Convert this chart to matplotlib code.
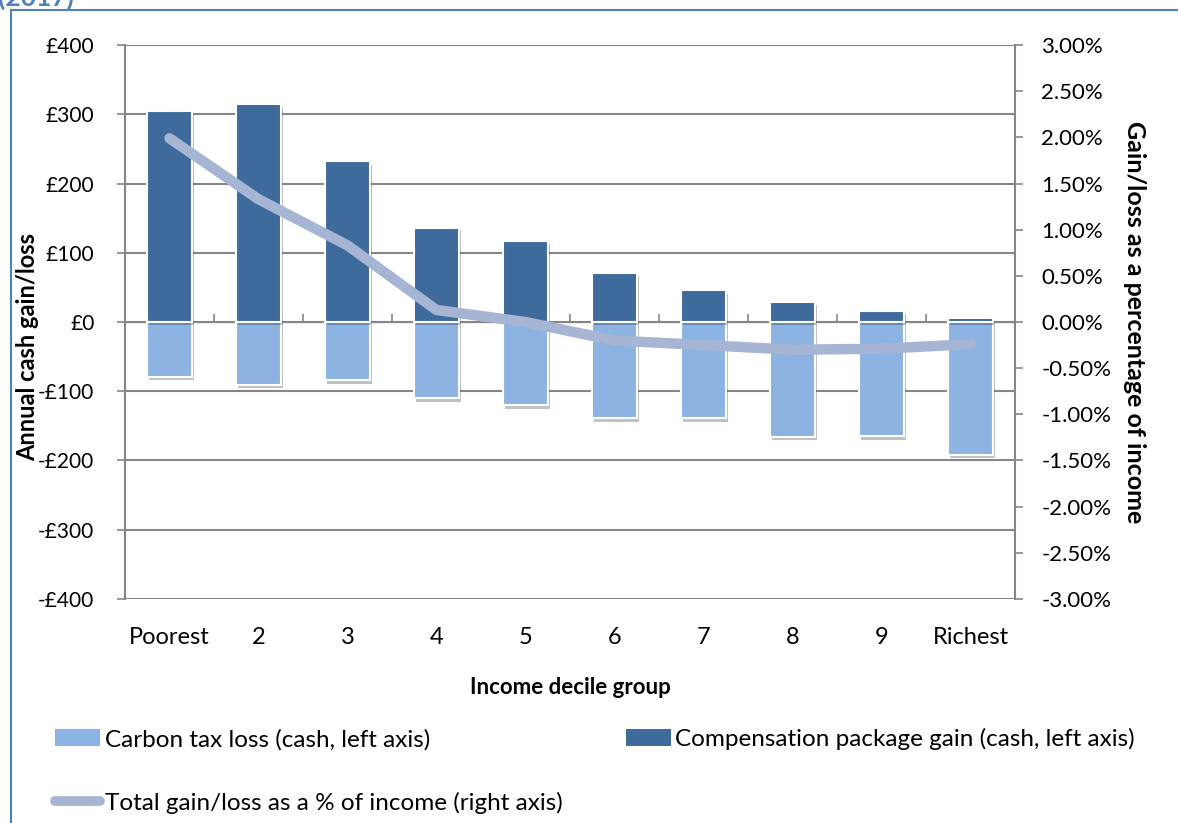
import numpy as np
import matplotlib.pyplot as plt
import matplotlib.patheffects as pe
from matplotlib.patches import Rectangle, Patch
from matplotlib.lines import Line2D
from matplotlib.ticker import FuncFormatter, MultipleLocator

plt.rcParams['font.family'] = ['Lato', 'DejaVu Sans']

# данные
deciles = ['Poorest', '2', '3', '4', '5', '6', '7', '8', '9', 'Richest']
tax_loss = [-79, -91, -84, -110, -120, -139, -139, -166, -165, -192]
comp_gain = [305, 315, 232, 136, 117, 71, 46, 29, 16, 6]
total_pct = [1.99, 1.33, 0.83, 0.13, 0.0, -0.20, -0.25, -0.30, -0.29, -0.24]

lbl_loss = 'Carbon tax loss (cash, left axis)'
lbl_gain = 'Compensation package gain (cash, left axis)'
lbl_total = 'Total gain/loss as a % of income (right axis)'

c_loss = '#8DB3E2'
c_gain = '#3F6A9C'
c_line = '#A5B5D3'
c_grid = '#868686'

fig = plt.figure(figsize=(11.78, 8.23), dpi=100)
ax = fig.add_axes([0.1061, 0.2722, 0.7555, 0.6731])
x = np.arange(len(deciles))

shadow = [pe.SimplePatchShadow(offset=(1.5, -2.5), alpha=0.3), pe.Normal()]
b1 = ax.bar(x, tax_loss, width=0.5, color=c_loss, edgecolor='white', linewidth=1.5, zorder=3)
b2 = ax.bar(x, comp_gain, width=0.5, color=c_gain, edgecolor='white', linewidth=1.5, zorder=3)
for r in list(b1) + list(b2):
    r.set_path_effects(shadow)

ax.set_xlim(-0.5, 9.5)
ax.set_ylim(-400, 400)
ax.yaxis.set_major_locator(MultipleLocator(100))
ax.yaxis.set_major_formatter(FuncFormatter(lambda v, p: f'£{v:.0f}' if v >= 0 else f'-£{-v:.0f}'))
ax.grid(axis='y', color=c_grid, linewidth=1.5, zorder=0)
ax.set_axisbelow(True)
for s in ['top', 'right', 'bottom']:
    ax.spines[s].set_visible(False)
ax.spines['left'].set_color(c_grid)
ax.spines['left'].set_linewidth(1.5)
ax.tick_params(axis='y', length=6, width=1.2, color=c_grid, labelsize=15, pad=16)
ax.set_xticks(x)
ax.set_xticklabels(deciles)
ax.tick_params(axis='x', length=0, labelsize=17, pad=20)

# ось категорий по нулю с засечками между группами
sec = ax.secondary_xaxis(0.5)
sec.set_xticks(np.arange(0.5, 9.5, 1))
sec.set_xticklabels([''] * 9)
sec.spines['bottom'].set_color(c_grid)
sec.spines['bottom'].set_linewidth(1.5)
sec.tick_params(axis='x', direction='out', length=6, width=1.2, color=c_grid)

ax.set_ylabel('Annual cash gain/loss', fontsize=17, fontweight='bold')
ax.yaxis.set_label_coords(-0.097, 0.455)
ax.set_xlabel('Income decile group', fontsize=16, fontweight='bold', labelpad=21)

ax2 = ax.twinx()
ax2.plot(x, total_pct, color=c_line, linewidth=7.5, solid_capstyle='round',
         solid_joinstyle='round', zorder=4)
ax2.set_ylim(-3, 3)
ax2.yaxis.set_major_locator(MultipleLocator(0.5))
ax2.yaxis.set_major_formatter(FuncFormatter(lambda v, p: f'{v:.2f}%'))
for s in ['top', 'left', 'bottom']:
    ax2.spines[s].set_visible(False)
ax2.spines['right'].set_color(c_grid)
ax2.spines['right'].set_linewidth(1.5)
ax2.tick_params(axis='y', length=6, width=1.2, color=c_grid, labelsize=16, pad=13)
ax2.set_ylabel('Gain/loss as a percentage of income', fontsize=18, fontweight='bold',
               rotation=270, labelpad=22)
ax2.yaxis.set_label_coords(1.147, 0.5)

h_loss = Patch(facecolor=c_loss, edgecolor='none')
h_gain = Patch(facecolor=c_gain, edgecolor='none')
h_total = Line2D([], [], color=c_line, linewidth=7, solid_capstyle='round')
fig.legend([h_loss, h_total, h_gain], [lbl_loss, lbl_total, lbl_gain],
           ncol=2, loc='upper left', bbox_to_anchor=(0.028, 0.142), frameon=False,
           fontsize=17.5, handlelength=1.85, handleheight=0.7, handletextpad=0.2,
           labelspacing=1.72, columnspacing=2.6)

# рамка и обрезанный заголовок сверху
fig.patches.append(Rectangle((0.0093, -0.1), 1.2, 1.0878, transform=fig.transFigure,
                             fill=False, edgecolor='#4F81BD', linewidth=1.5))
fig.text(-0.002, 1.003, '(2017)', color='#4F81BD', fontsize=19, fontweight='bold',
         ha='left', va='center')

fig.savefig('out.png', dpi=100)
